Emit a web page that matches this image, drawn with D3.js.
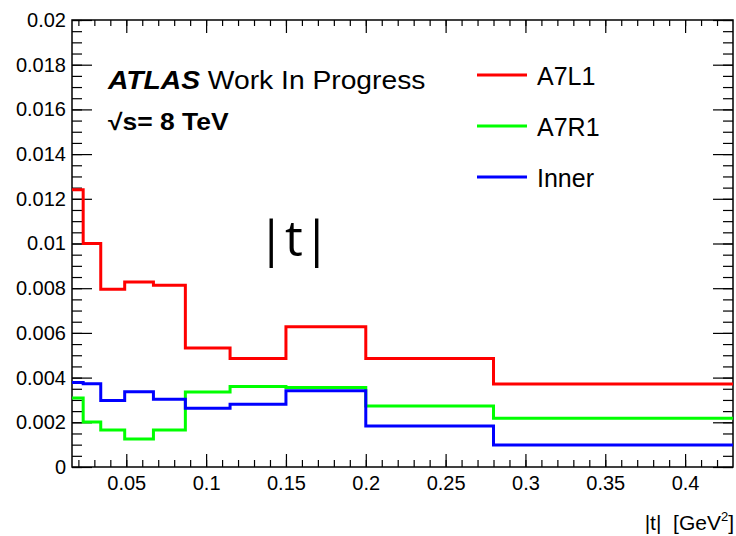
<!DOCTYPE html>
<meta charset="utf-8">
<body style="margin:0;background:#fff">
    <div id='chart'></div>
</body>
<script src="https://d3js.org/d3.v7.min.js"></script>
<style>
    text { font-family: "Liberation Sans", Arial, sans-serif; fill: #000; }
    .tick line { stroke: #000; stroke-width: 1.2px; }
    .domain { display: none; }
</style>
<script>
    // bin edges in |t| [GeV^2]
    var edges = [0.016, 0.023, 0.034, 0.049, 0.067, 0.087, 0.115, 0.15, 0.2, 0.28, 0.43];

    var a7l1  = [0.0124, 0.0100, 0.00795, 0.00828, 0.00813, 0.00532, 0.00486, 0.00628, 0.00486, 0.00371];
    var a7r1  = [0.00309, 0.00201, 0.00166, 0.00125, 0.00166, 0.00336, 0.00360, 0.00356, 0.00273, 0.00218];
    var inner = [0.00378, 0.00372, 0.00297, 0.00337, 0.00303, 0.00263, 0.00281, 0.00341, 0.00183, 0.00098];

    var seriesNames = ["A7L1", "A7R1", "Inner"];
    var seriesColors = ["#ff0000", "#00ff00", "#0000ff"];

    var yMajor = d3.range(11).map(function(i) { return i * 0.002; });
    var yMinor = d3.range(41).map(function(i) { return i * 0.0005; });
    var xMajor = d3.range(1, 9).map(function(i) { return i * 0.05; });
    var xMinor = d3.range(2, 43).map(function(i) { return i * 0.01; });

    var width = 736,
        height = 536;
    // note: "top" is taken by window.top
    var padL = 72, padR = 733, padT = 20, padB = 467;

    var svg = d3.select("#chart")
        .append("svg")
            .attr("width", width)
            .attr("height", height);

    svg.append("rect").attr("width", width).attr("height", height).attr("fill", "#fff");

    var x = d3.scaleLinear().domain([edges[0], edges[edges.length - 1]]).range([padL, padR]);
    var y = d3.scaleLinear().domain([0, 0.02]).range([padB, padT]);

    function fmt(d) { return String(+d.toFixed(4)); }

    // ticks point inwards, like ROOT
    svg.append("g").attr("transform", "translate(" + padL + ",0)")
        .call(d3.axisLeft(y).tickValues(yMinor).tickSizeInner(-10).tickSizeOuter(0).tickFormat(""));
    svg.append("g").attr("class", "ylab").attr("transform", "translate(" + padL + ",0)")
        .call(d3.axisLeft(y).tickValues(yMajor).tickSizeInner(-20).tickSizeOuter(0).tickPadding(6).tickFormat(fmt));
    svg.append("g").attr("transform", "translate(" + padR + ",0)")
        .call(d3.axisRight(y).tickValues(yMinor).tickSizeInner(-10).tickSizeOuter(0).tickFormat(""));
    svg.append("g").attr("transform", "translate(" + padR + ",0)")
        .call(d3.axisRight(y).tickValues(yMajor).tickSizeInner(-20).tickSizeOuter(0).tickFormat(""));

    svg.append("g").attr("transform", "translate(0," + padB + ")")
        .call(d3.axisBottom(x).tickValues(xMinor).tickSizeInner(-7).tickSizeOuter(0).tickFormat(""));
    svg.append("g").attr("class", "xlab").attr("transform", "translate(0," + padB + ")")
        .call(d3.axisBottom(x).tickValues(xMajor).tickSizeInner(-13).tickSizeOuter(0).tickPadding(9).tickFormat(fmt));
    svg.append("g").attr("transform", "translate(0," + padT + ")")
        .call(d3.axisTop(x).tickValues(xMinor).tickSizeInner(-6).tickSizeOuter(0).tickFormat(""));
    svg.append("g").attr("transform", "translate(0," + padT + ")")
        .call(d3.axisTop(x).tickValues(xMajor).tickSizeInner(-13).tickSizeOuter(0).tickFormat(""));

    svg.selectAll(".ylab text, .xlab text")
        .attr("font-family", "Liberation Sans")
        .attr("font-size", 20)
        .attr("fill", "#000");

    // frame
    svg.append("rect")
        .attr("x", padL).attr("y", padT)
        .attr("width", padR - padL).attr("height", padB - padT)
        .attr("fill", "none").attr("stroke", "#000").attr("stroke-width", 1.5);

    // histograms
    var line = d3.line()
        .x(function(d) { return x(d[0]); })
        .y(function(d) { return y(d[1]); })
        .curve(d3.curveStepAfter);

    [a7l1, a7r1, inner].forEach(function(vals, k) {
        var pts = edges.map(function(e, i) { return [e, vals[Math.min(i, vals.length - 1)]]; });
        svg.append("path")
            .datum(pts)
            .attr("d", line)
            .attr("fill", "none")
            .attr("stroke", seriesColors[k])
            .attr("stroke-width", 3);
    });

    // labels (the reference font runs a bit wide, so stretch horizontally)
    var atlas = svg.append("text").attr("font-size", 25)
        .attr("transform", "translate(108,89) scale(1.13,1)");
    atlas.append("tspan").attr("font-weight", "bold").attr("font-style", "italic").text("ATLAS");
    atlas.append("tspan").text(" Work In Progress");

    svg.append("text").attr("font-size", 23)
        .attr("transform", "translate(108,130) scale(1.15,1)")
        .attr("font-weight", "bold").text("\u221As= 8 TeV");

    svg.append("text").attr("x", 294).attr("y", 256).attr("font-size", 50)
        .attr("text-anchor", "middle")
        .style("font-family", "'Open Sans', 'Noto Sans', sans-serif")
        .text("|t|");

    var xt = svg.append("text").attr("x", 734).attr("y", 530).attr("font-size", 21)
        .attr("text-anchor", "end");
    xt.append("tspan").text("|t|\u00a0\u00a0[GeV");
    xt.append("tspan").attr("font-size", 13).attr("dy", -9).text("2");
    xt.append("tspan").attr("dy", 9).text("]");

    // legend
    var legY = [75, 126, 177];
    seriesNames.forEach(function(name, k) {
        svg.append("line")
            .attr("x1", 477).attr("x2", 527)
            .attr("y1", legY[k]).attr("y2", legY[k])
            .attr("stroke", seriesColors[k]).attr("stroke-width", 3);
        svg.append("text")
            .attr("x", 537).attr("y", legY[k] + 10)
            .attr("font-size", 25)
            .text(name);
    });
</script>
